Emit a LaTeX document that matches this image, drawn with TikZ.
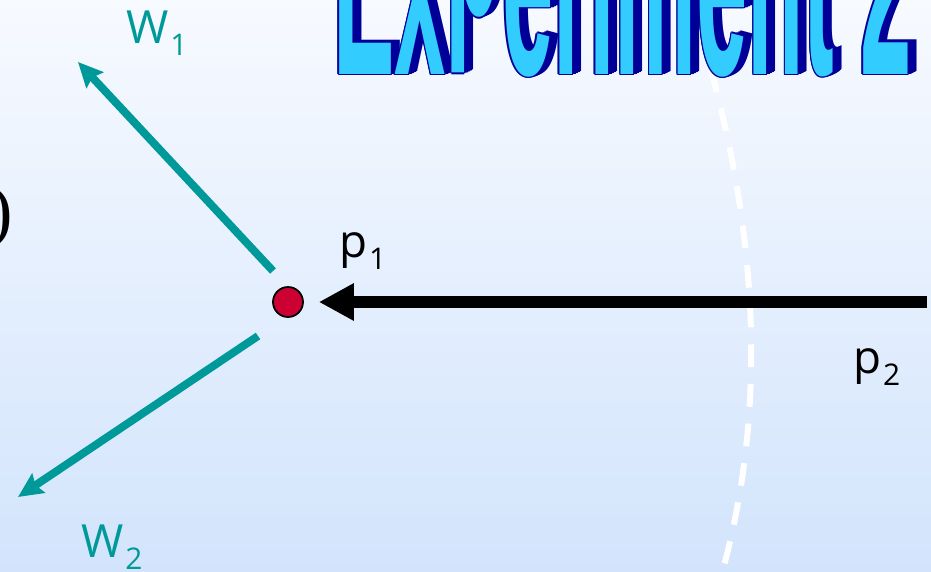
\documentclass[tikz,border=0pt]{standalone}
\usepackage{fontspec}
\setsansfont{Open Sans}
\newfontfamily\artfont{Liberation Sans}
\newfontfamily\parenfont{Liberation Serif}
\usetikzlibrary{arrows.meta,positioning}
\definecolor{WeightTeal}{HTML}{009999}
\definecolor{PointRed}{HTML}{CC0033}
\definecolor{ArtCyan}{HTML}{33CCFF}
\definecolor{ArtNavy}{HTML}{000099}
\definecolor{SkyTop}{HTML}{F7FAFF}
\definecolor{SkyBottom}{HTML}{D2E4FC}
\newcommand{\sublbl}[2]{#1\kern1pt\raisebox{-.27em}{\fontsize{17}{17}\selectfont #2}}
\newcommand{\arttext}{Ex\raisebox{.21em}{p}eriment 2}

\begin{document}
\begin{tikzpicture}[x=0.02cm,y=-0.02cm,
  lbl/.style={font=\sffamily\fontsize{26}{26}\selectfont,inner sep=0pt,anchor=base west},
  wvec/.style={draw=WeightTeal,line width=4.5pt,-{Stealth[length=14pt,width=13pt,inset=2pt]}},
  art/.style={font=\artfont\bfseries\fontsize{80}{80}\selectfont,inner sep=0pt,anchor=base west,xscale=.655,yscale=2}]
  \useasboundingbox (0,0) rectangle (931,572);
  \clip (0,0) rectangle (931,572);
  \shade[top color=SkyTop,bottom color=SkyBottom] (0,0) rectangle (931,572);

  % white dashed boundary
  \draw[white,line width=3.4pt,dash pattern=on 13pt off 9.6pt] (711,70) .. controls (752,220) and (772,400) .. (720,580);

  % word-art title: shadow and outline copies, then the face
  \foreach \dx/\dy [count=\k] in {9/-3,8/-2,7/-2,6/-1,5/-1,4/0,3/0,-1.5/0,1.5/0,0/-1.5,0/1.5,-1/-1,1/1,-1/1,1/-1}
    \node[art,text=ArtNavy] (titleback\k) at (333+\dx,74+\dy) {\arttext};
  \node[art,text=ArtCyan] (title) at (333,74) {\arttext};

  % cut-off text at the left edge
  \node[font=\parenfont\fontsize{40}{40}\selectfont,inner sep=0pt,anchor=east] (paren) at (13,218) {)};

  % point p1 and incoming p2
  \node[circle,fill=PointRed,draw=black,line width=1pt,minimum size=0.6cm,inner sep=0pt] (pone) at (288,302) {};
  \coordinate (ptwo) at (927,302);
  \draw[line width=6.5pt,-{Triangle[length=20pt,width=20pt]},shorten >=8.5pt] (ptwo) -- (pone.east);

  % weight vectors
  \coordinate (wonefoot) at (273,271);
  \coordinate (wone) at (78,62);
  \coordinate (wtwofoot) at (258,336);
  \coordinate (wtwo) at (18,497);
  \draw[wvec] (wonefoot) -- (wone);
  \draw[wvec] (wtwofoot) -- (wtwo);

  % labels
  \node[lbl,text=WeightTeal] (wonelbl) at (126,43) {\sublbl{W}{1}};
  \node[lbl,text=WeightTeal] (wtwolbl) at (81,557) {\sublbl{W}{2}};
  \node[lbl] (ponelbl) at (339,257) {\sublbl{p}{1}};
  \node[lbl] (ptwolbl) at (853,373) {\sublbl{p}{2}};
\end{tikzpicture}
\end{document}
